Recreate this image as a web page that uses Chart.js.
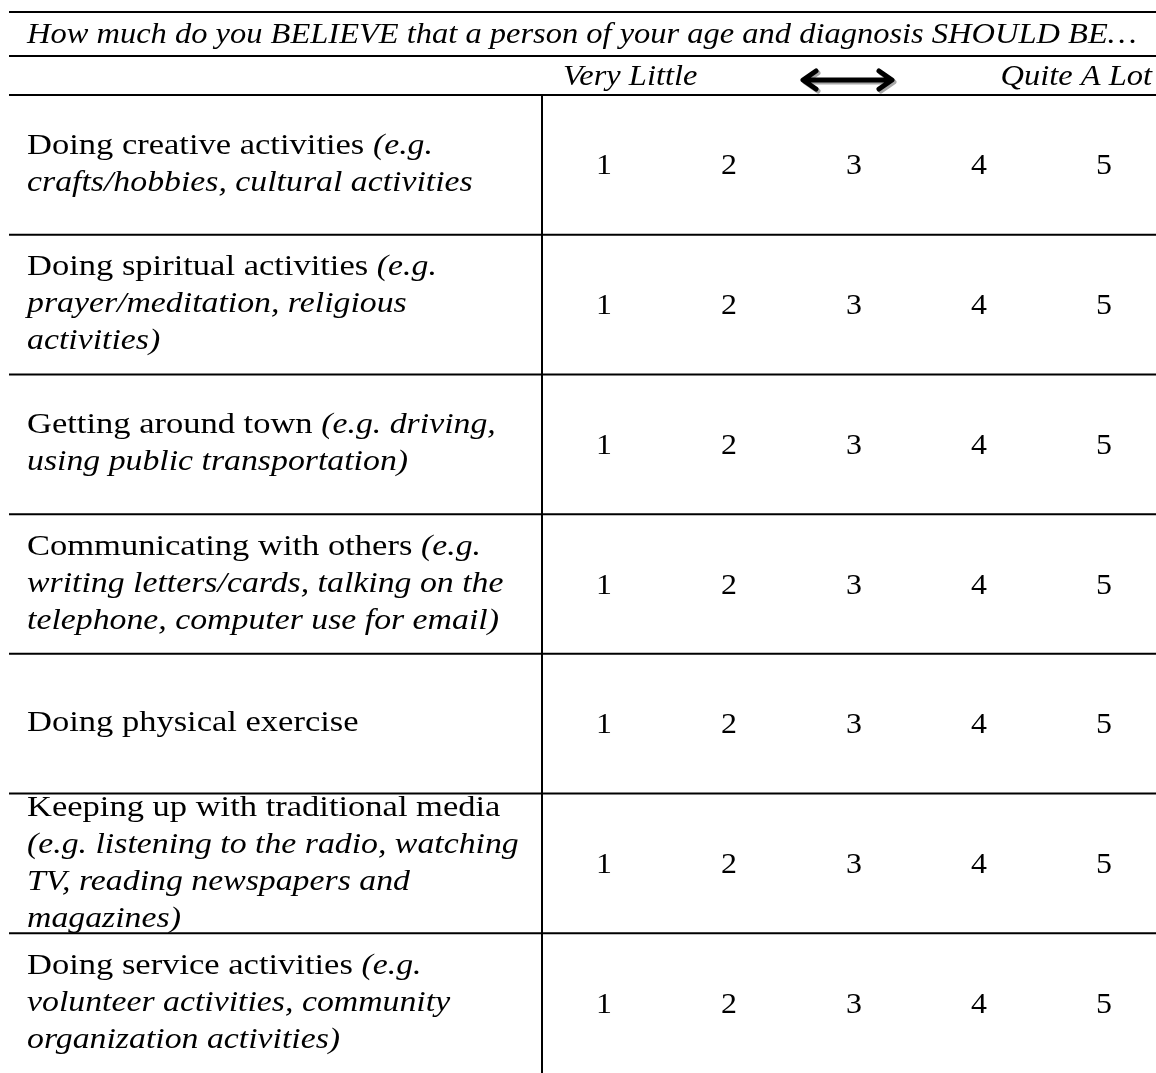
<!DOCTYPE html>
<html>
<head>
<meta charset="utf-8">
<script src="https://cdn.jsdelivr.net/npm/chart.js@4"></script>
<style>
  body { margin: 0; background: #fff; }
  #wrap { width: 1156px; height: 1073px; }
</style>
</head>
<body>
<div id="wrap"><canvas id="surveyChart" width="1156" height="1073"></canvas></div>
<script>
// rows of the questionnaire; _text_ marks the italic part
var activities = [
  ["Doing creative activities _(e.g._", "_crafts/hobbies, cultural activities_"],
  ["Doing spiritual activities _(e.g._", "_prayer/meditation, religious_", "_activities)_"],
  ["Getting around town _(e.g. driving,_", "_using public transportation)_"],
  ["Communicating with others _(e.g._", "_writing letters/cards, talking on the_", "_telephone, computer use for email)_"],
  ["Doing physical exercise"],
  ["Keeping up with traditional media", "_(e.g. listening to the radio, watching_", "_TV, reading newspapers and_", "_magazines)_"],
  ["Doing service activities _(e.g._", "_volunteer activities, community_", "_organization activities)_"]
];
var ratingValues = [1, 2, 3, 4, 5];
var question = "How much do you BELIEVE that a person of your age and diagnosis SHOULD BE\u2026";
var lowLabel = "Very Little";
var highLabel = "Quite A Lot";

var rowKeys = activities.map(function(a, i) { return "row" + i; });
var FONT = '"Liberation Serif", "Times New Roman", serif';
// Liberation Serif is narrower than the Cambria of the original, so widen it a bit
var STRETCH_REG = 1.19, STRETCH_IT = 1.165, STRETCH_HEAD = 1.12;

var datasets = activities.map(function(a, i) {
  return {
    label: rowKeys[i],
    data: ratingValues.map(function(v) { return { x: v, y: rowKeys[i] }; }),
    pointRadius: 0,
    pointHoverRadius: 0
  };
});

// draws text widened by sx, returns the drawn width
function wideText(ctx, text, x, y, sx) {
  ctx.save();
  ctx.translate(x, y);
  ctx.scale(sx, 1);
  ctx.fillText(text, 0, 0);
  ctx.restore();
  return ctx.measureText(text).width * sx;
}

function drawMixed(ctx, line, x, y, size) {
  var parts = line.split("_");
  for (var p = 0; p < parts.length; p++) {
    if (!parts[p]) continue;
    var it = p % 2 === 1;
    ctx.font = (it ? "italic " : "") + size + "px " + FONT;
    x += wideText(ctx, parts[p], x, y, it ? STRETCH_IT : STRETCH_REG);
  }
}

function hline(ctx, x1, x2, y) {
  ctx.beginPath();
  ctx.moveTo(x1, y);
  ctx.lineTo(x2, y);
  ctx.stroke();
}

function drawArrow(ctx, x1, x2, y, color) {
  ctx.strokeStyle = color;
  ctx.lineWidth = 5;
  ctx.lineCap = "round";
  ctx.lineJoin = "round";
  ctx.beginPath();
  ctx.moveTo(x1 + 3, y); ctx.lineTo(x2 - 3, y);
  ctx.moveTo(x1 + 15, y - 9); ctx.lineTo(x1 + 2, y); ctx.lineTo(x1 + 15, y + 9);
  ctx.moveTo(x2 - 15, y - 9); ctx.lineTo(x2 - 2, y); ctx.lineTo(x2 - 15, y + 9);
  ctx.stroke();
}

var tablePlugin = {
  id: "tablePlugin",
  afterDraw: function(chart) {
    var ctx = chart.ctx;
    var area = chart.chartArea;
    var yScale = chart.scales.y;
    var rowH = (area.bottom - area.top) / activities.length;
    ctx.save();
    ctx.fillStyle = "#000";
    ctx.strokeStyle = "#000";
    ctx.lineWidth = 2;

    // header rules and text
    hline(ctx, 9, chart.width, 12);
    hline(ctx, 9, chart.width, 56);
    hline(ctx, 9, chart.width, area.top);
    ctx.textBaseline = "middle";
    ctx.textAlign = "left";
    ctx.font = "italic 29px " + FONT;
    wideText(ctx, question, 27, 35, STRETCH_HEAD);
    wideText(ctx, lowLabel, 563, 77, STRETCH_HEAD);
    ctx.textAlign = "right";
    wideText(ctx, highLabel, 1152, 77, STRETCH_HEAD);
    drawArrow(ctx, 803, 896, 82, "#a8a8a8");
    drawArrow(ctx, 801, 894, 80, "#000");

    // row rules and vertical divider
    ctx.strokeStyle = "#000";
    ctx.lineWidth = 2;
    ctx.lineCap = "butt";
    for (var r = 1; r < activities.length; r++) {
      hline(ctx, 9, chart.width, yScale.getPixelForValue(r) - rowH / 2);
    }
    ctx.beginPath();
    ctx.moveTo(area.left + 1, area.top);
    ctx.lineTo(area.left + 1, area.bottom);
    ctx.stroke();

    // row labels
    ctx.textAlign = "left";
    var lh = 37;
    activities.forEach(function(lines, i) {
      var cy = yScale.getPixelForValue(i);
      var y0 = cy - (lines.length - 1) * lh / 2;
      lines.forEach(function(line, k) {
        drawMixed(ctx, line, 27, y0 + k * lh, 29);
      });
    });

    // rating numbers at each point
    ctx.textAlign = "center";
    ctx.font = "29px " + FONT;
    chart.data.datasets.forEach(function(ds, d) {
      chart.getDatasetMeta(d).data.forEach(function(pt, j) {
        wideText(ctx, String(ds.data[j].x), pt.x, pt.y + 2, 1.1);
      });
    });
    ctx.restore();
  }
};

new Chart(document.getElementById("surveyChart"), {
  type: "scatter",
  data: { datasets: datasets },
  options: {
    responsive: false,
    animation: false,
    layout: { padding: { left: 541, top: 95, right: 0, bottom: 0 } },
    plugins: { legend: { display: false }, tooltip: { enabled: false } },
    scales: {
      x: { type: "linear", min: 0.496, max: 5.416, display: false },
      y: { type: "category", labels: rowKeys, offset: true, display: false }
    }
  },
  plugins: [tablePlugin]
});
</script>
</body>
</html>
